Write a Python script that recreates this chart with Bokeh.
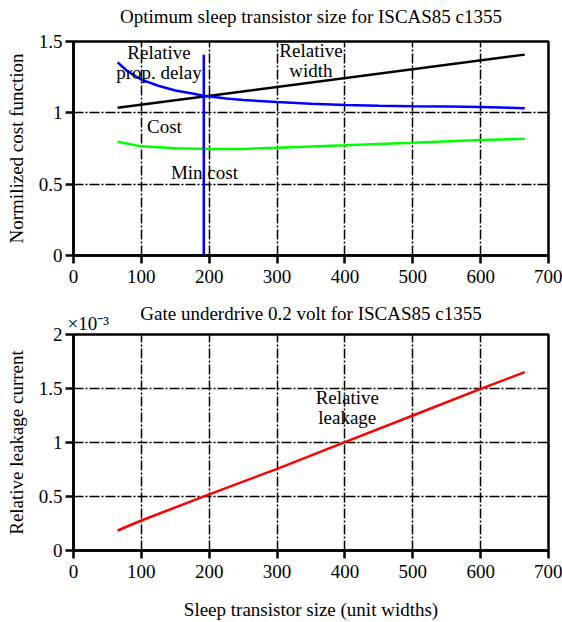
from bokeh.plotting import figure
from bokeh.layouts import column
from bokeh.models import FixedTicker, Label, ColumnDataSource
from bokeh.core.properties import value
from bokeh.embed import file_html
from bokeh.resources import INLINE

FONT = "Liberation Serif"
FS = "19px"

# ---------------- data ----------------
x_ticks = [0, 100, 200, 300, 400, 500, 600, 700]
x_grid = [100, 200, 300, 400, 500, 600]

top_y_ticks = [0, 0.5, 1, 1.5]
top_y_labels = ["0", "0.5", "1", "1.5"]
top_y_grid = [0.5, 1]

bot_y_ticks = [0, 0.5, 1, 1.5, 2]
bot_y_labels = ["0", "0.5", "1", "1.5", "2"]
bot_y_grid = [0.5, 1, 1.5]

# Relative width (black)
width_x = [65, 665]
width_y = [1.036, 1.408]

# Relative propagation delay (blue)
delay_x = [65, 80, 100, 125, 150, 175, 192, 225, 250, 300, 350, 400, 450, 500, 550, 600, 665]
delay_y = [1.354, 1.29, 1.233, 1.19, 1.157, 1.135, 1.12, 1.10, 1.09, 1.076, 1.064,
           1.055, 1.05, 1.046, 1.044, 1.041, 1.032]

# Cost (green)
cost_x = [65, 100, 150, 200, 250, 300, 400, 500, 600, 665]
cost_y = [0.798, 0.765, 0.751, 0.747, 0.747, 0.756, 0.772, 0.79, 0.809, 0.818]

# Min cost marker (blue vertical)
min_cost_x = [192, 192]
min_cost_y = [0, 1.407]

# Relative leakage (red), in units of 1e-3
leak_x = [65, 100, 200, 300, 400, 500, 600, 665]
leak_y = [0.185, 0.278, 0.52, 0.756, 1.003, 1.25, 1.497, 1.651]
leak_multiplier = "×10⁻³"

top_ann_x = [126, 350, 134, 193]
top_ann_y = [1.355, 1.365, 0.902, 0.584]
top_ann_text = ["Relative\nprop. delay", "Relative\nwidth", "Cost", "Min cost"]

bot_ann_x = [403.5]
bot_ann_y = [1.32]
bot_ann_text = ["Relative\nleakage"]

top_title = "Optimum sleep transistor size for ISCAS85 c1355"
bot_title = "Gate underdrive 0.2 volt for ISCAS85 c1355"

DASH = "10 2 2 2"


def make_fig(height, ymax, yticks, ylabels, ygrid, ylabel, xlabel, b_top, b_bottom):
    p = figure(width=562, height=height, x_range=(0, 700), y_range=(0, ymax),
               output_backend="svg", toolbar_location=None,
               min_border_left=73, min_border_right=14,
               min_border_top=b_top, min_border_bottom=b_bottom)
    p.background_fill_color = "white"
    p.border_fill_color = "white"
    p.outline_line_color = "black"
    p.outline_line_width = 2.5

    p.xaxis.ticker = FixedTicker(ticks=x_ticks)
    p.yaxis.ticker = FixedTicker(ticks=yticks)
    p.yaxis.major_label_overrides = dict(zip(yticks, ylabels))

    for ax in (p.xaxis[0], p.yaxis[0]):
        ax.axis_line_width = 2.5
        ax.axis_line_color = "black"
        ax.major_tick_line_width = 2.5
        ax.major_tick_line_color = "black"
        ax.major_tick_out = 8
        ax.major_tick_in = 0
        ax.minor_tick_out = 0
        ax.minor_tick_in = 0
        ax.major_label_text_font = FONT
        ax.major_label_text_font_size = FS
        ax.major_label_text_color = "black"
        ax.axis_label_text_font = FONT
        ax.axis_label_text_font_size = FS
        ax.axis_label_text_font_style = "normal"
        ax.axis_label_text_color = "black"
    p.xaxis.major_label_standoff = 6
    p.yaxis.major_label_standoff = 3

    p.yaxis.axis_label = ylabel
    p.yaxis.axis_label_standoff = 9
    if xlabel:
        p.xaxis.axis_label = xlabel
        p.xaxis.axis_label_standoff = 18

    p.xgrid.ticker = FixedTicker(ticks=x_grid)
    p.ygrid.ticker = FixedTicker(ticks=ygrid)
    for g in (p.xgrid[0], p.ygrid[0]):
        g.grid_line_color = "black"
        g.grid_line_width = 1.5
        g.grid_line_dash = DASH
    return p


def add_title(p, text, ymax, offset):
    # title placed in the panel above the frame
    p.add_layout(Label(x=350, y=ymax, y_offset=offset, text=text,
                       text_font=FONT, text_font_size=FS, text_align="center",
                       text_baseline="alphabetic", text_color="black"), "above")


p1 = make_fig(289, 1.5, top_y_ticks, top_y_labels, top_y_grid,
              "Normilized cost function", None, 41, 34)
add_title(p1, top_title, 1.5, 25)

p1.line(width_x, width_y, line_color="black", line_width=2.5)
p1.line(delay_x, delay_y, line_color="#0000ff", line_width=2.5)
p1.line(cost_x, cost_y, line_color="#00ff00", line_width=2.5)
p1.line(min_cost_x, min_cost_y, line_color="#0000ff", line_width=2.5)
src1 = ColumnDataSource(dict(x=top_ann_x, y=top_ann_y, t=top_ann_text))
p1.text("x", "y", text="t", source=src1, text_font=value(FONT), text_font_size=FS,
        text_align="center", text_baseline="middle", text_line_height=0.95,
        text_color="black")

p2 = make_fig(333, 2, bot_y_ticks, bot_y_labels, bot_y_grid,
              "Relative leakage current", "Sleep transistor size (unit widths)",
              45, 72)
add_title(p2, bot_title, 2, 21)
p2.line(leak_x, leak_y, line_color="#ff0000", line_width=2.5)
src2 = ColumnDataSource(dict(x=bot_ann_x, y=bot_ann_y, t=bot_ann_text))
p2.text("x", "y", text="t", source=src2, text_font=value(FONT), text_font_size=FS,
        text_align="center", text_baseline="middle", text_line_height=0.95,
        text_color="black")
p2.add_layout(Label(x=0, y=2, x_offset=-6, y_offset=11, text=leak_multiplier,
                    text_font=FONT, text_font_size=FS, text_align="left",
                    text_baseline="alphabetic", text_color="black"), "above")

layout = column(p1, p2, spacing=0)
open("out.html", "w").write(file_html(layout, INLINE))
